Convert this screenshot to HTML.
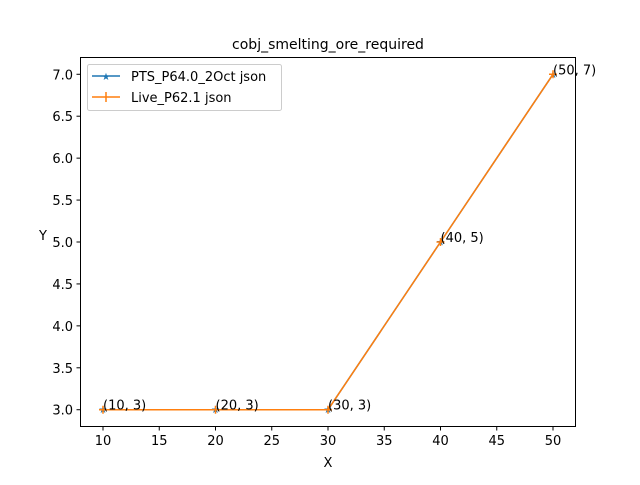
<!DOCTYPE html>
<html><head><meta charset="utf-8"><style>
body{margin:0;background:#fff}
svg text{font-family:"DejaVu Sans","Liberation Sans",sans-serif;font-size:13px;fill:#000}
</style></head><body>
<svg id="c" width="640" height="480">
<rect width="640" height="480" fill="#fff"/>
<text x="328" y="49" text-anchor="middle" font-size="14" style="font-size:14px">cobj_smelting_ore_required</text>
<g id="ax"></g>
<g id="marks"></g>
<rect x="80.5" y="57.5" width="495" height="369" fill="none" stroke="#000" stroke-width="1"/>
<text x="328" y="467" text-anchor="middle">X</text>
<text x="43" y="240" text-anchor="middle">Y</text>
<g>
<rect x="87.5" y="64.5" width="194" height="46" rx="2" fill="#fff" fill-opacity="0.8" stroke="#ccc"/>
<line x1="92" y1="76" x2="120" y2="76" stroke="#1f77b4" stroke-width="1.5"/>
<text x="106" y="80" text-anchor="middle" fill="#1f77b4" style="font-size:10px;fill:#1f77b4">★</text>
<text x="131" y="81">PTS_P64.0_2Oct json</text>
<line x1="92" y1="97" x2="120" y2="97" stroke="#ff7f0e" stroke-width="1.5"/>
<line x1="106" y1="92" x2="106" y2="102" stroke="#ff7f0e" stroke-width="1.5"/>
<text x="131" y="102">Live_P62.1 json</text>
</g>
</svg>
<script>
const xs=[10,20,30,40,50];
const ptsY=[3,3,3,5,7];
const liveY=[3,3,3,5,7];
const xTicks=[10,15,20,25,30,35,40,45,50];
const yTicks=[3.0,3.5,4.0,4.5,5.0,5.5,6.0,6.5,7.0];
const NS="http://www.w3.org/2000/svg";
const X=v=>80.5+(v-8)*495/44;
const Y=v=>426.5-(v-2.8)*369/4.4;
const ax=document.getElementById('ax'),mk=document.getElementById('marks');
function el(t,a,p){const e=document.createElementNS(NS,t);for(const k in a)e.setAttribute(k,a[k]);p.appendChild(e);return e;}
xTicks.forEach(t=>{const x=X(t);
const l=el('line',{x1:x,x2:x,y1:426.5,y2:430.5,stroke:'#000'},ax);


const tx=el('text',{x:x,y:445,'text-anchor':'middle'},ax);tx.textContent=t;

});
yTicks.forEach(t=>{const y=Y(t);
const l=el('line',{x1:76.5,x2:80.5,y1:y,y2:y,stroke:'#000'},ax);


const tx=el('text',{x:73,y:y+5,'text-anchor':'end'},ax);tx.textContent=t.toFixed(1);

});
function series(ys,color,name,star){
const p=el('polyline',{points:xs.map((x,i)=>X(x)+','+Y(ys[i])).join(' '),fill:'none',stroke:color,'stroke-width':1.5},mk);


xs.forEach((x,i)=>{const cx=X(x),cy=Y(ys[i]);
if(star){const t=el('text',{x:cx,y:cy+3.5,'text-anchor':'middle',style:'font-size:10px;fill:'+color},mk);t.textContent='★';

}
else{const g=el('path',{d:`M${cx-4},${cy}H${cx+4}M${cx},${cy-4}V${cy+4}`,stroke:color,'stroke-width':1.5},mk);

}});}
series(ptsY,'#1f77b4','pts',true);
series(liveY,'#ff7f0e','live',false);
xs.forEach((x,i)=>{const t=el('text',{x:X(x),y:Y(liveY[i])},mk);t.textContent='('+x+', '+liveY[i]+')';

});
</script>
</body></html>
